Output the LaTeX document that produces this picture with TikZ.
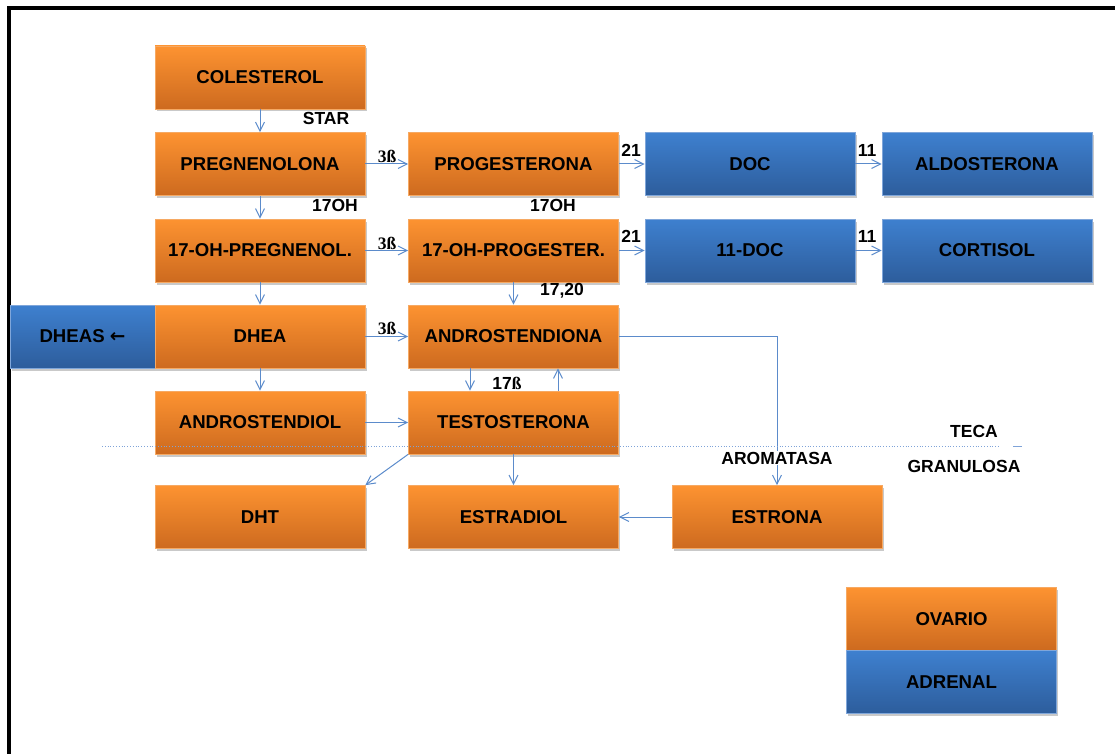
\documentclass[tikz,border=0pt]{standalone}
\usepackage{fontspec}
\setmainfont{Liberation Sans}
\newfontfamily\serifbold{Liberation Serif}
\newfontfamily\symfont{DejaVu Sans}
\usetikzlibrary{arrows.meta,shadows}

\definecolor{orTop}{HTML}{FD9331}
\definecolor{orBot}{HTML}{CD6A1F}
\definecolor{orLine}{HTML}{F6A963}
\definecolor{blTop}{HTML}{3E80CF}
\definecolor{blBot}{HTML}{2D5D9C}
\definecolor{blLine}{HTML}{7FA6DA}
\definecolor{connBlue}{HTML}{5B8BCB}
\definecolor{dotBlue}{HTML}{7FA3D8}

\tikzset{
  box/.style={minimum width=210pt, minimum height=63pt, inner sep=0pt,
    font=\fontsize{18.6}{21}\selectfont\bfseries, text=black, line width=0.6pt,
    drop shadow={shadow xshift=1.5pt, shadow yshift=-2.5pt, opacity=0.3, fill=black!70}},
  ovary/.style={box, top color=orTop, bottom color=orBot, draw=orLine},
  adrenal/.style={box, top color=blTop, bottom color=blBot, draw=blLine},
  conn/.style={draw=connBlue, line width=1pt, -{Straight Barb[length=9pt,width=9pt]}},
  plain/.style={draw=connBlue, line width=1pt},
  lbl/.style={font=\fontsize{17.5}{20}\selectfont\bfseries, text=black, inner sep=1pt},
  beta/.style={font=\fontsize{17.5}{20}\selectfont\serifbold\bfseries, text=black, inner sep=1pt},
  frame/.style={draw=black, line width=4pt},
  zone/.style={draw=dotBlue, line width=0.8pt, dotted},
}

\begin{document}
\begin{tikzpicture}[x=1pt, y=-1pt]
  \useasboundingbox (0,0) rectangle (1115,754);

  % page frame (top and left edges)
  \draw[frame] (1115,8) -- (9,8) -- (9,754);

  % ovarian pathway (left columns)
  \node[ovary] (col)   at (260,77.5)  {COLESTEROL};
  \node[ovary] (preg)  at (260,164)   {PREGNENOLONA};
  \node[ovary] (prog)  at (513.5,164) {PROGESTERONA};
  \node[ovary] (ohpreg) at (260,250.5) {17-OH-PREGNENOL.};
  \node[ovary] (ohprog) at (513.5,250.5) {17-OH-PROGESTER.};
  \node[adrenal, minimum width=145pt] (dheas) at (82.5,336.5) {DHEAS {\symfont\bfseries ←}};
  \node[ovary] (dhea)  at (260,336.5) {DHEA};
  \node[ovary] (andro) at (513.5,336.5) {ANDROSTENDIONA};
  \node[ovary] (androl) at (260,422.5) {ANDROSTENDIOL};
  \node[ovary] (testo) at (513.5,422.5) {TESTOSTERONA};
  \node[ovary] (dht)   at (260,517)   {DHT};
  \node[ovary] (estra) at (513.5,517) {ESTRADIOL};
  \node[ovary] (estro) at (777,517)   {ESTRONA};

  % adrenal pathway (right columns)
  \node[adrenal] (doc)   at (750,164)   {DOC};
  \node[adrenal] (aldo)  at (987,164)   {ALDOSTERONA};
  \node[adrenal] (ddoc)  at (750,250.5) {11-DOC};
  \node[adrenal] (cort)  at (987,250.5) {CORTISOL};

  % legend
  \node[ovary]   (legov) at (951.5,619) {OVARIO};
  \node[adrenal] (legad) at (951.5,682) {ADRENAL};

  % enzyme labels
  \node[lbl]  (star)  at (326,118) {STAR};
  \node[lbl]  (ohA)   at (335,205) {17OH};
  \node[lbl]  (ohB)   at (553,205) {17OH};
  \node[beta] (bA)    at (387,156) {3ß};
  \node[beta] (bB)    at (387,243) {3ß};
  \node[beta] (bC)    at (387,328) {3ß};
  \node[lbl]  (tA)    at (631,150) {21};
  \node[lbl]  (tB)    at (631,236) {21};
  \node[lbl]  (eA)    at (867,150) {11};
  \node[lbl]  (eB)    at (867,236) {11};
  \node[lbl]  (lyase) at (562,291) {17,20};
  \node[lbl]  (hsd)   at (507,383) {17{\serifbold ß}};
  \node[lbl]  (teca)  at (974,431) {TECA};
  \node[lbl]  (gran)  at (964,466) {GRANULOSA};
  \node[lbl]  (aroma) at (777,458) {AROMATASA};

  % connectors
  \draw[conn] (col) -- (preg);
  \draw[conn] (preg) -- (ohpreg);
  \draw[conn] (ohpreg) -- (dhea);
  \draw[conn] (dhea) -- (androl);
  \draw[conn] (preg) -- (prog);
  \draw[conn] (ohpreg) -- (ohprog);
  \draw[conn] (dhea) -- (andro);
  \draw[conn] (androl) -- (testo);
  \draw[conn] (prog) -- (doc);
  \draw[conn] (doc) -- (aldo);
  \draw[conn] (ohprog) -- (ddoc);
  \draw[conn] (ddoc) -- (cort);
  \draw[conn] (ohprog) -- (andro);
  \draw[conn] ([xshift=-43.5pt]andro.south) -- ([xshift=-43.5pt]testo.north);
  \draw[conn] ([xshift=44.5pt]testo.north) -- ([xshift=44.5pt]andro.south);
  \draw[conn] (testo.south west) -- (dht.north east);
  \draw[conn] (testo) -- (estra);
  \draw[conn] (estro) -- (estra);
  \draw[plain] (andro.east) -| (aroma.north);
  \draw[conn] (aroma.south) -- (estro.north);

  % theca / granulosa boundary
  \coordinate (zoneA) at (102,446);
  \coordinate (zoneB) at (1000,446);
  \coordinate (zoneC) at (1013,446);
  \coordinate (zoneD) at (1022,446);
  \draw[zone] (zoneA) -- (zoneB);
  \draw[draw=dotBlue, line width=0.8pt] (zoneC) -- (zoneD);
\end{tikzpicture}
\end{document}
